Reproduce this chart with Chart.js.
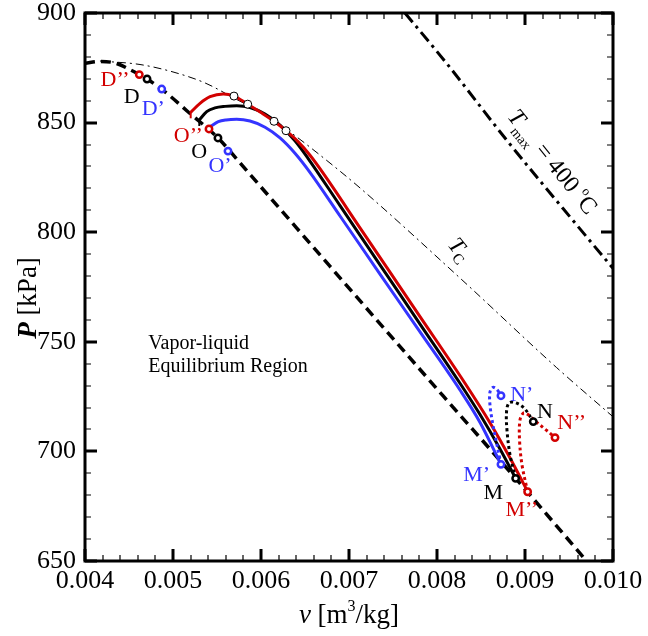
<!DOCTYPE html>
<html>
<head>
<meta charset="utf-8">
<script src="https://cdn.jsdelivr.net/npm/chart.js@4.4.0/dist/chart.umd.min.js"></script>
<style>
  html, body { margin: 0; padding: 0; background: #fff; }
</style>
</head>
<body>
<canvas id="pv-chart" width="648" height="636"></canvas>
<script>
// tick values
var vTicks = [0.004, 0.005, 0.006, 0.007, 0.008, 0.009, 0.010];
var pTicks = [650, 700, 750, 800, 850, 900];

// saturation dome (thick dashed)
var domeV = [0.00400, 0.00417, 0.00434, 0.00451, 0.004705, 0.00491, 0.00516, 0.00551, 0.00585, 0.00678, 0.00807, 0.008894, 0.00970];
var domeP = [877.1, 877.9, 877.2, 874.2, 869.9, 864.0, 855.3, 843.0, 827.5, 784.6, 725.3, 687.7, 650.0];

// critical isotherm
var tcV = [0.00417, 0.004625, 0.00500, 0.005364, 0.005693, 0.005989, 0.00633, 0.00667, 0.007125, 0.008261, 0.00936, 0.01000];
var tcP = [878.1, 876.5, 873.1, 868.1, 861.2, 854.8, 845.7, 835.2, 820.2, 779.1, 738.2, 715.8];

// T_max = 400 C isotherm
var tmaxV = [0.007636, 0.00811, 0.008792, 0.009625, 0.01000];
var tmaxP = [900.0, 877.0, 842.0, 801.5, 783.5];

// expansion paths O -> M
var redV = [0.005201, 0.005307, 0.005421, 0.005572, 0.005693, 0.005849, 0.006000, 0.006148, 0.006284, 0.006421, 0.006557, 0.006696, 0.007125, 0.007807, 0.008318, 0.008602, 0.008830, 0.009031];
var redP = [854.7, 858.8, 861.8, 863.1, 862.1, 858.4, 854.6, 850.6, 846.3, 841.3, 835.1, 827.5, 802.0, 761.5, 731.1, 713.1, 697.0, 681.6];
var blackV = [0.005299, 0.005383, 0.005477, 0.005591, 0.005724, 0.005875, 0.006046, 0.006216, 0.006386, 0.006536, 0.006898, 0.007352, 0.007807, 0.008261, 0.008489, 0.008716, 0.008894];
var blackP = [851.2, 855.0, 856.7, 857.4, 857.7, 856.9, 853.9, 848.9, 841.7, 833.6, 812.1, 785.1, 758.1, 731.1, 716.8, 701.1, 687.7];
var blueV = [0.005421, 0.005515, 0.005602, 0.005724, 0.005875, 0.006046, 0.006216, 0.006386, 0.006556, 0.006898, 0.007352, 0.007807, 0.008261, 0.008489, 0.008727];
var blueP = [848.1, 850.4, 851.2, 851.5, 850.7, 847.9, 843.0, 836.0, 827.3, 807.4, 780.9, 754.5, 728.0, 713.2, 694.1];

// M -> N paths (dotted)
var redDotV = [0.009030, 0.008966, 0.008938, 0.008943, 0.008983, 0.009034, 0.009114, 0.009239, 0.009341];
var redDotP = [681.6, 693.8, 705.2, 714.3, 717.5, 716.8, 713.9, 709.8, 706.3];
var blackDotV = [0.008894, 0.008830, 0.008795, 0.008790, 0.008818, 0.008886, 0.008989, 0.009094];
var blackDotP = [687.7, 698.4, 709.8, 718.0, 722.1, 722.3, 719.8, 713.6];
var blueDotV = [0.008727, 0.008682, 0.008636, 0.008602, 0.008602, 0.008636, 0.008682, 0.008727];
var blueDotP = [694.1, 702.9, 712.0, 721.2, 727.1, 729.2, 728.2, 725.4];

// state points D, O, M, N
var redStateV = [0.004617, 0.005409, 0.009030, 0.009341];
var redStateP = [871.9, 847.1, 681.6, 706.3];
var blackStateV = [0.004705, 0.005511, 0.008894, 0.009094];
var blackStateP = [869.9, 843.0, 687.7, 713.6];
var blueStateV = [0.004872, 0.005625, 0.008727, 0.008727];
var blueStateP = [865.3, 837.0, 694.1, 725.4];

// points where the red path touches T_c
var touchV = [0.005693, 0.005849, 0.006148, 0.006284];
var touchP = [862.1, 858.4, 850.6, 846.3];

var redStateNames = ['D\u2019\u2019', 'O\u2019\u2019', 'M\u2019\u2019', 'N\u2019\u2019'];
var blackStateNames = ['D', 'O', 'M', 'N'];
var blueStateNames = ['D\u2019', 'O\u2019', 'M\u2019', 'N\u2019'];

var RED = '#d20000';
var BLUE = '#3434ff';
var serif = '"Liberation Serif", "Times New Roman", serif';

Chart.defaults.font.family = serif;

function zip(vs, ps) {
    return vs.map(function(v, i) { return { x: v, y: ps[i] }; });
}

// where each state name sits, in (v, P)
var nameSpots = {
    red:   [[0.004341, 869.4], [0.005174, 843.9], [0.008963, 673.3], [0.009531, 712.8]],
    black: [[0.004531, 861.8], [0.005299, 836.3], [0.008640, 680.9], [0.009227, 718.1]],
    blue:  [[0.004776, 856.1], [0.005534, 830.2], [0.008451, 689.2], [0.008963, 725.7]]
};

function lineSet(vs, ps, color, width, dash, smooth) {
    var ds = {
        data: zip(vs, ps),
        showLine: true,
        borderColor: color,
        borderWidth: width,
        borderDash: dash,
        pointRadius: 0,
        fill: false
    };
    if (smooth === 'monotone') {
        ds.cubicInterpolationMode = 'monotone';
    } else {
        ds.tension = smooth;
    }
    return ds;
}

function markerSet(vs, ps, color, radius, width) {
    return {
        data: zip(vs, ps),
        showLine: false,
        pointRadius: radius,
        pointBorderWidth: width,
        pointBorderColor: color,
        pointBackgroundColor: '#fff'
    };
}

// draws a run of differently styled text pieces along one baseline
function drawRuns(ctx, x, y, angle, runs, align) {
    ctx.save();
    ctx.translate(x, y);
    ctx.rotate(angle);
    ctx.textBaseline = 'alphabetic';
    ctx.textAlign = 'left';
    var total = 0;
    runs.forEach(function(r) {
        ctx.font = r.font;
        total += ctx.measureText(r.text).width;
    });
    var cx = align === 'center' ? -total / 2 : 0;
    runs.forEach(function(r) {
        ctx.font = r.font;
        ctx.fillText(r.text, cx, r.dy || 0);
        cx += ctx.measureText(r.text).width;
    });
    ctx.restore();
}

var pvPlugin = {
    id: 'pvDecor',
    afterDatasetsDraw: function(chart) {
        var ctx = chart.ctx;
        var xs = chart.scales.x;
        var ys = chart.scales.y;

        // state names
        ctx.save();
        ctx.font = '22px ' + serif;
        ctx.textAlign = 'center';
        ctx.textBaseline = 'middle';
        [['red', redStateNames, RED], ['black', blackStateNames, '#000'], ['blue', blueStateNames, BLUE]].forEach(function(g) {
            ctx.fillStyle = g[2];
            g[1].forEach(function(name, i) {
                var s = nameSpots[g[0]][i];
                ctx.fillText(name, xs.getPixelForValue(s[0]), ys.getPixelForValue(s[1]));
            });
        });

        // region note
        ctx.fillStyle = '#000';
        ctx.font = '20px ' + serif;
        ctx.textAlign = 'left';
        ctx.textBaseline = 'alphabetic';
        var nx = xs.getPixelForValue(0.004719);
        ctx.fillText('Vapor-liquid', nx, ys.getPixelForValue(746.7));
        ctx.fillText('Equilibrium Region', nx, ys.getPixelForValue(736.4));
        ctx.restore();

        // isotherm names, rotated along their lines
        var ang = 51 * Math.PI / 180;
        ctx.fillStyle = '#000';
        drawRuns(ctx, xs.getPixelForValue(0.008792), ys.getPixelForValue(852.6), ang, [
            { text: 'T', font: 'italic 24px ' + serif },
            { text: 'max', font: '14px ' + serif, dy: 7 },
            { text: ' = 400 ', font: '24px ' + serif },
            { text: 'o', font: '13px ' + serif, dy: -11 },
            { text: 'C', font: '24px ' + serif }
        ]);
        drawRuns(ctx, xs.getPixelForValue(0.008115), ys.getPixelForValue(794.2), ang, [
            { text: 'T', font: 'italic 23px ' + serif },
            { text: 'C', font: '15px ' + serif, dy: 5 }
        ]);

        // small end marks where the red and black paths begin
        ctx.save();
        ctx.lineWidth = 2;
        [[redV, redP, RED], [blackV, blackP, '#000']].forEach(function(c) {
            var px = xs.getPixelForValue(c[0][0]);
            var py = ys.getPixelForValue(c[1][0]);
            ctx.strokeStyle = c[2];
            ctx.beginPath();
            ctx.moveTo(px, py - 1);
            ctx.lineTo(px, py + 6);
            ctx.stroke();
        });
        ctx.restore();
    },
    afterDraw: function(chart) {
        var ctx = chart.ctx;
        var a = chart.chartArea;
        var xs = chart.scales.x;
        var ys = chart.scales.y;
        ctx.save();
        ctx.strokeStyle = '#000';

        // inward ticks on all four sides
        var i, px, py, len;
        for (i = 0; i <= 30; i++) {
            var major = i % 5 === 0;
            px = Math.round(xs.getPixelForValue(0.004 + i * 0.0002));
            len = major ? 12 : 6;
            ctx.lineWidth = major ? 3 : 1.2;
            ctx.beginPath();
            ctx.moveTo(px, a.bottom); ctx.lineTo(px, a.bottom - len);
            ctx.moveTo(px, a.top); ctx.lineTo(px, a.top + len);
            ctx.stroke();
        }
        for (i = 0; i <= 25; i++) {
            var majorP = i % 5 === 0;
            py = Math.round(ys.getPixelForValue(650 + i * 10));
            len = majorP ? 12 : 6;
            ctx.lineWidth = majorP ? 3 : 1.2;
            ctx.beginPath();
            ctx.moveTo(a.left, py); ctx.lineTo(a.left + len, py);
            ctx.moveTo(a.right, py); ctx.lineTo(a.right - len, py);
            ctx.stroke();
        }

        // frame
        ctx.lineWidth = 3;
        ctx.strokeRect(a.left, a.top, a.right - a.left, a.bottom - a.top);

        // tick labels
        ctx.fillStyle = '#000';
        ctx.font = '26px ' + serif;
        ctx.textAlign = 'center';
        ctx.textBaseline = 'alphabetic';
        vTicks.forEach(function(v) {
            ctx.fillText(v.toFixed(3), xs.getPixelForValue(v), a.bottom + 27);
        });
        ctx.textAlign = 'right';
        ctx.textBaseline = 'middle';
        pTicks.forEach(function(p) {
            ctx.fillText(String(p), a.left - 9, ys.getPixelForValue(p));
        });
        ctx.restore();

        // axis titles
        ctx.fillStyle = '#000';
        drawRuns(ctx, (a.left + a.right) / 2, 623, 0, [
            { text: 'v', font: 'italic 27px ' + serif },
            { text: ' [m', font: '27px ' + serif },
            { text: '3', font: '16px ' + serif, dy: -12 },
            { text: '/kg]', font: '27px ' + serif }
        ], 'center');
        drawRuns(ctx, 36, 298, -Math.PI / 2, [
            { text: 'P', font: 'bold italic 27px ' + serif },
            { text: ' [kPa]', font: '27px ' + serif }
        ], 'center');
    }
};

var ctx = document.getElementById('pv-chart');

new Chart(ctx, {
    type: 'scatter',
    data: {
        datasets: [
            markerSet(redStateV, redStateP, RED, 3.2, 2.5),
            markerSet(blackStateV, blackStateP, '#000', 3.2, 2.5),
            markerSet(blueStateV, blueStateP, BLUE, 3.2, 2.5),
            markerSet(touchV, touchP, '#000', 4, 1),
            lineSet(redDotV, redDotP, RED, 3, [3, 3], 0.35),
            lineSet(blackDotV, blackDotP, '#000', 3, [3, 3], 0.35),
            lineSet(blueDotV, blueDotP, BLUE, 3, [3, 3], 0.35),
            lineSet(redV, redP, RED, 3, [], 'monotone'),
            lineSet(blackV, blackP, '#000', 3, [], 'monotone'),
            lineSet(blueV, blueP, BLUE, 3, [], 'monotone'),
            lineSet(tmaxV, tmaxP, '#000', 3, [12, 5, 3, 5], 'monotone'),
            lineSet(tcV, tcP, '#000', 1, [8, 4, 2, 4], 'monotone'),
            lineSet(domeV, domeP, '#000', 3.5, [10, 6], 'monotone')
        ]
    },
    options: {
        responsive: false,
        animation: false,
        devicePixelRatio: 1,
        layout: { padding: { top: 13, right: 35, left: 0, bottom: 0 } },
        plugins: {
            legend: { display: false },
            tooltip: { enabled: false }
        },
        scales: {
            x: {
                type: 'linear',
                min: 0.004,
                max: 0.010,
                afterFit: function(axis) { axis.height = 75; },
                grid: { display: false, drawTicks: false },
                border: { display: false },
                ticks: { display: false }
            },
            y: {
                type: 'linear',
                min: 650,
                max: 900,
                afterFit: function(axis) { axis.width = 85; },
                grid: { display: false, drawTicks: false },
                border: { display: false },
                ticks: { display: false }
            }
        }
    },
    plugins: [pvPlugin]
});
</script>
</body>
</html>
